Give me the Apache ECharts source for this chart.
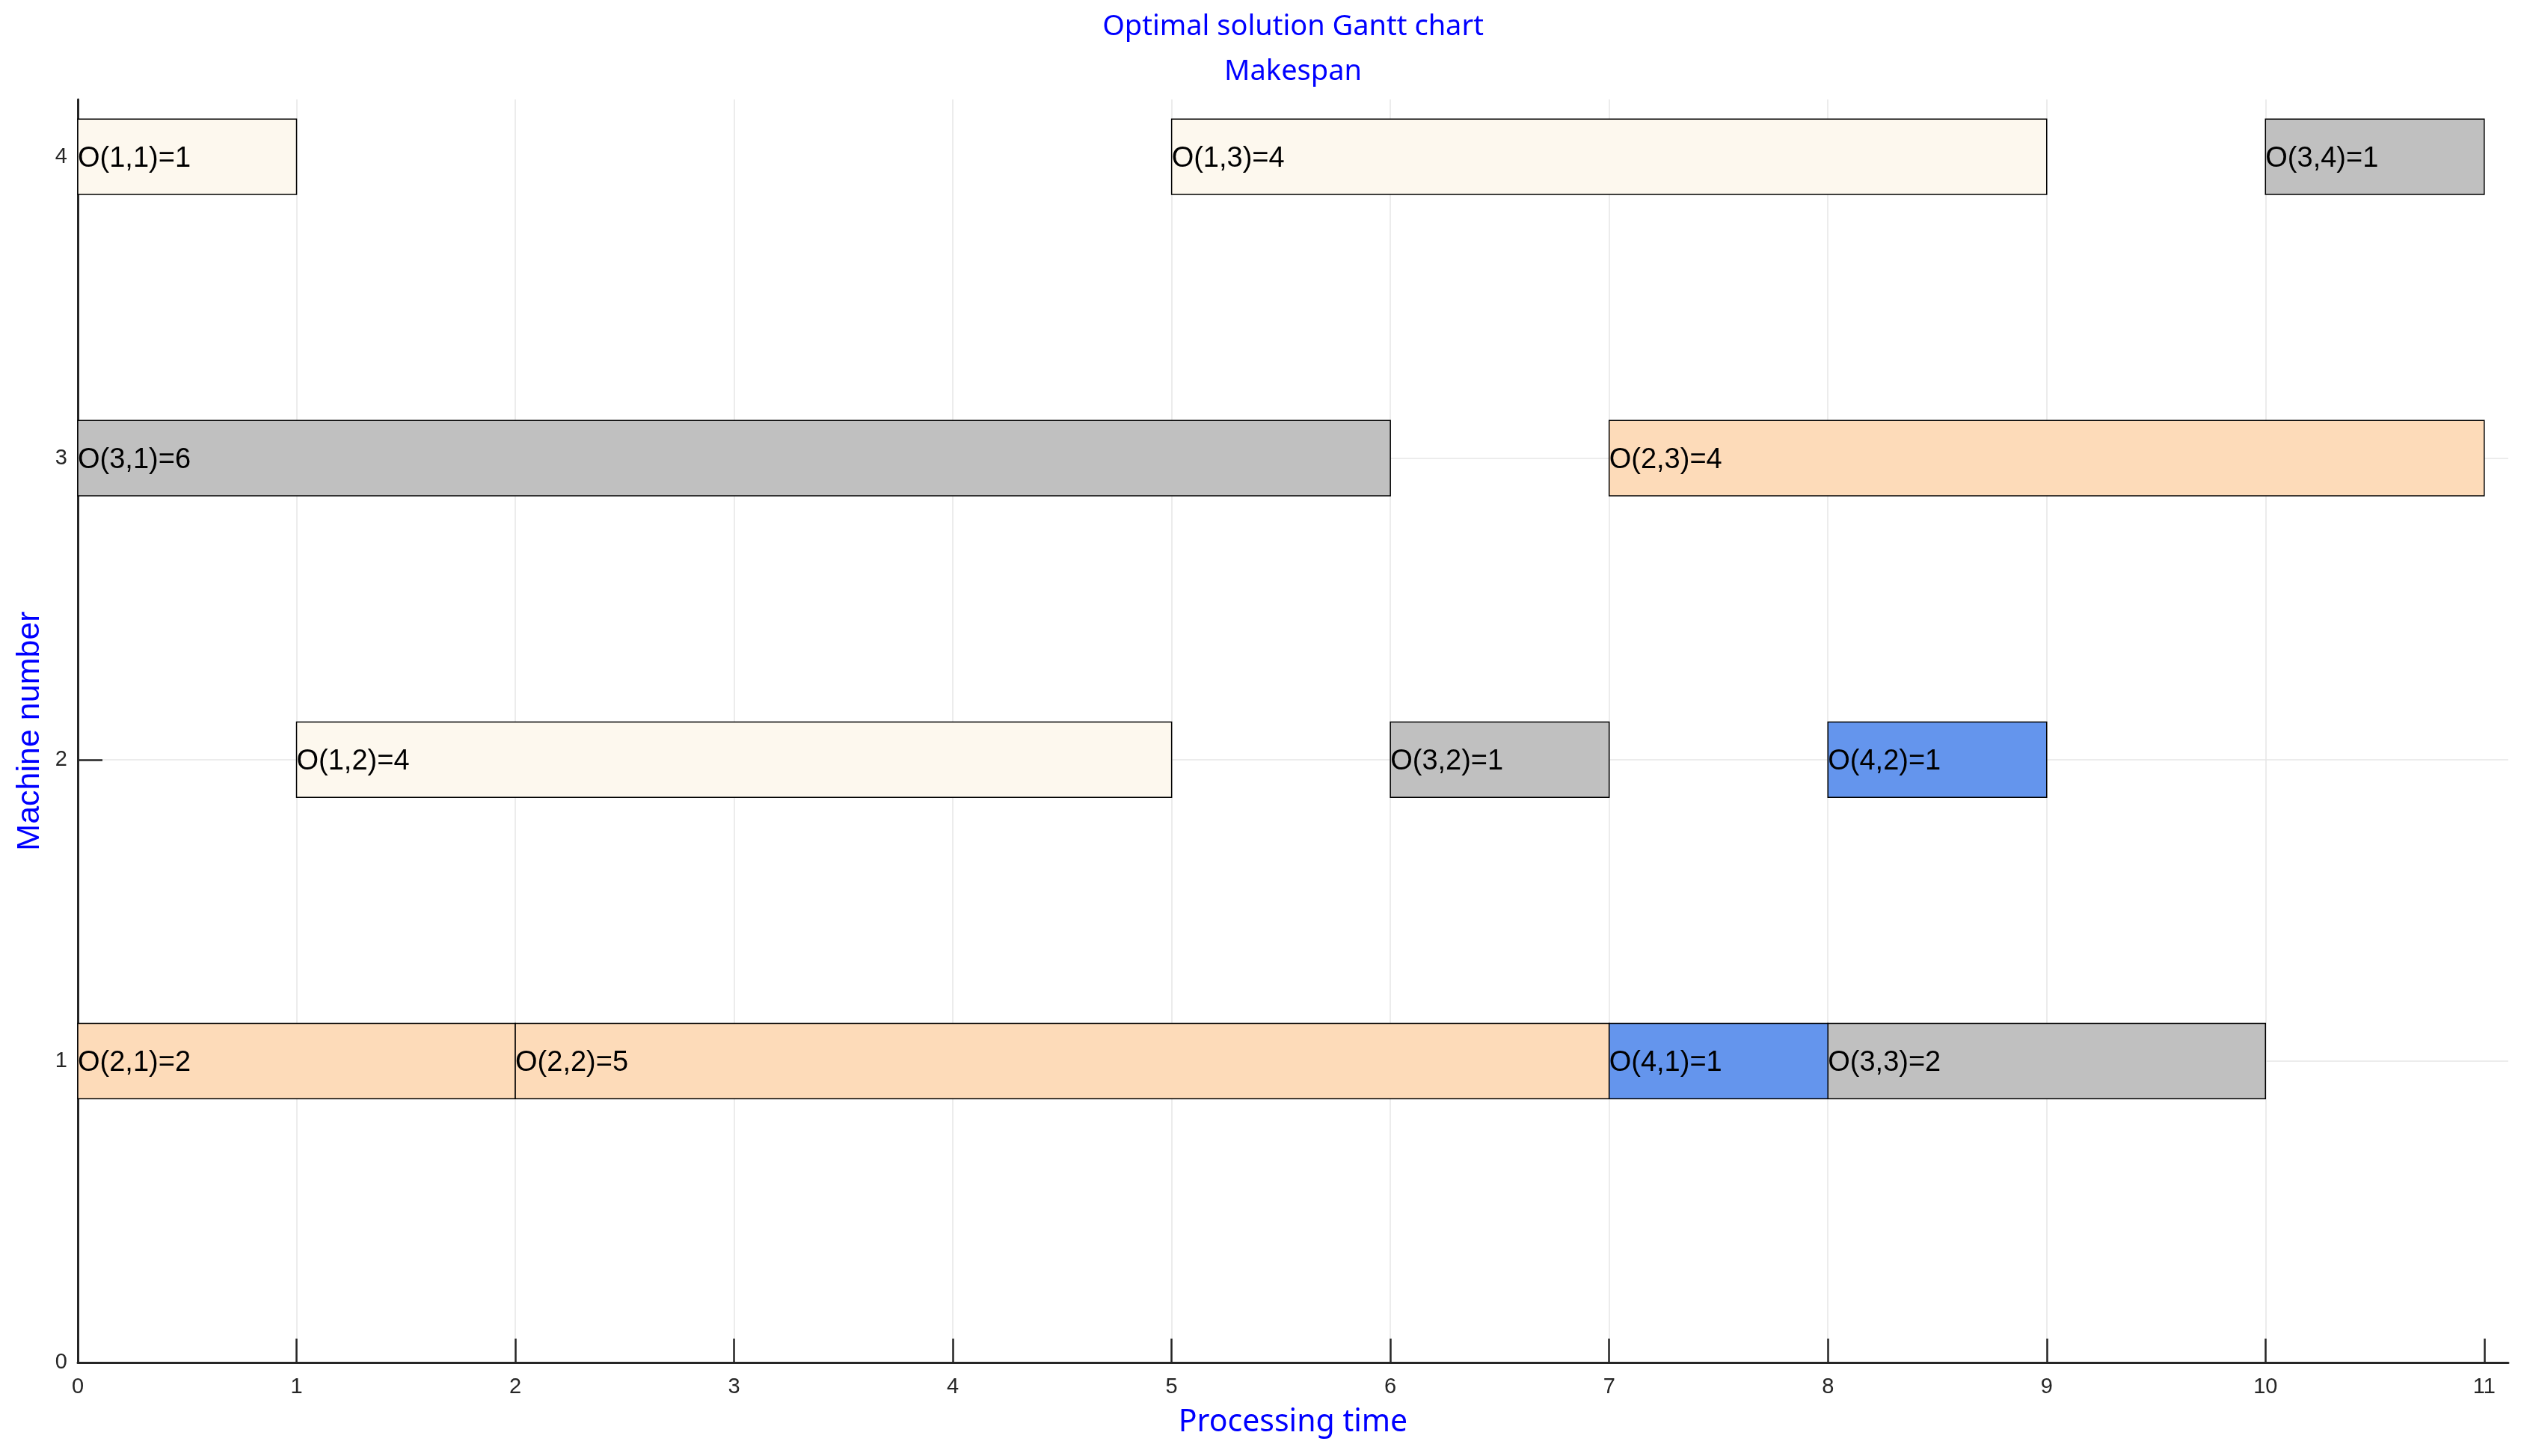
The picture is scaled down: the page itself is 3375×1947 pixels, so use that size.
<!DOCTYPE html>
<html>
<head>
<meta charset="utf-8">
<title>Optimal solution Gantt chart</title>
<script src="https://cdn.jsdelivr.net/npm/echarts@6/dist/echarts.min.js"></script>
<style>
  html, body { margin: 0; padding: 0; background: #fff; }
  #chart { width: 3375px; height: 1947px; }
</style>
</head>
<body>
<div id="chart"></div>
<script>
// operations: label, job, machine, start, duration
var opNames = ['O(1,1)=1', 'O(1,2)=4', 'O(1,3)=4',
  'O(2,1)=2', 'O(2,2)=5', 'O(2,3)=4',
  'O(3,1)=6', 'O(3,2)=1', 'O(3,3)=2', 'O(3,4)=1',
  'O(4,1)=1', 'O(4,2)=1'];
var opJob = [1, 1, 1, 2, 2, 2, 3, 3, 3, 3, 4, 4];
var opMachine = [4, 2, 4, 1, 1, 3, 3, 2, 1, 4, 1, 2];
var opStart = [0, 1, 5, 0, 2, 7, 0, 6, 8, 10, 7, 8];
var opDuration = [1, 4, 4, 2, 5, 4, 6, 1, 2, 1, 1, 1];

var xTicks = [0, 1, 2, 3, 4, 5, 6, 7, 8, 9, 10, 11];
var yTicks = [0, 1, 2, 3, 4];

// colour per job
var jobColors = { 1: '#fdf8ee', 2: '#fddbb9', 3: '#c0c0c0', 4: '#6495ed' };

var data = opNames.map(function (name, i) {
  return [opStart[i], opStart[i] + opDuration[i], opMachine[i], opJob[i], name];
});

var axisColor = '#262626';
var halfBar = 0.125;

function renderItem(params, api) {
  var start = api.value(0);
  var end = api.value(1);
  var m = api.value(2);
  var job = api.value(3);
  var p0 = api.coord([start, m + halfBar]);
  var p1 = api.coord([end, m - halfBar]);
  return {
    type: 'group',
    children: [
      {
        type: 'rect',
        shape: { x: p0[0], y: p0[1], width: p1[0] - p0[0], height: p1[1] - p0[1] },
        style: { fill: jobColors[job], stroke: '#000', lineWidth: 1.5 }
      },
      {
        type: 'text',
        x: p0[0],
        y: (p0[1] + p1[1]) / 2 + 3,
        style: {
          text: api.value(4),
          fill: '#000',
          font: '38px "Liberation Sans", Arial, sans-serif',
          align: 'left',
          verticalAlign: 'middle'
        }
      }
    ]
  };
}

var titleFont = '38px "Noto Sans", sans-serif';

var chart = echarts.init(document.getElementById('chart'));
chart.setOption({
  animation: false,
  backgroundColor: '#fff',
  // title centred over the plot area, not the whole canvas
  graphic: [
    {
      type: 'text', x: 1729, y: 36,
      style: { text: 'Optimal solution Gantt chart', fill: '#0000ff', font: titleFont, align: 'center', verticalAlign: 'middle' }
    },
    {
      type: 'text', x: 1729, y: 96,
      style: { text: 'Makespan', fill: '#0000ff', font: titleFont, align: 'center', verticalAlign: 'middle' }
    }
  ],
  grid: { left: 104, right: 21, top: 133, bottom: 125 },
  xAxis: {
    type: 'value',
    min: 0,
    max: 11.11,
    interval: 1,
    name: 'Processing time',
    nameLocation: 'middle',
    nameGap: 60,
    nameTextStyle: { color: '#0000ff', fontSize: 41, fontFamily: 'Noto Sans' },
    axisLine: { lineStyle: { color: axisColor, width: 3 } },
    axisTick: { inside: true, length: 32, customValues: xTicks, lineStyle: { color: axisColor, width: 2.5 } },
    axisLabel: { customValues: xTicks, margin: 18, fontSize: 29, color: axisColor, fontFamily: 'Liberation Sans' },
    splitLine: { show: true, showMinLine: false, showMaxLine: false, lineStyle: { color: '#e6e6e6', width: 1.5 } }
  },
  yAxis: {
    type: 'value',
    min: 0,
    max: 4.19,
    interval: 1,
    name: 'Machine number',
    nameLocation: 'middle',
    nameGap: 42,
    nameRotate: 90,
    nameTextStyle: { color: '#0000ff', fontSize: 43, fontFamily: 'Liberation Sans' },
    axisLine: { show: true, lineStyle: { color: axisColor, width: 3 } },
    axisTick: { show: true, inside: true, length: 33, customValues: yTicks, lineStyle: { color: axisColor, width: 2.5 } },
    axisLabel: { customValues: yTicks, margin: 14, fontSize: 29, color: axisColor, fontFamily: 'Liberation Sans' },
    splitLine: { show: true, showMinLine: false, showMaxLine: false, lineStyle: { color: '#e6e6e6', width: 1.5 } }
  },
  series: [
    {
      type: 'custom',
      renderItem: renderItem,
      encode: { x: [0, 1], y: 2 },
      data: data
    }
  ]
});
</script>
</body>
</html>
